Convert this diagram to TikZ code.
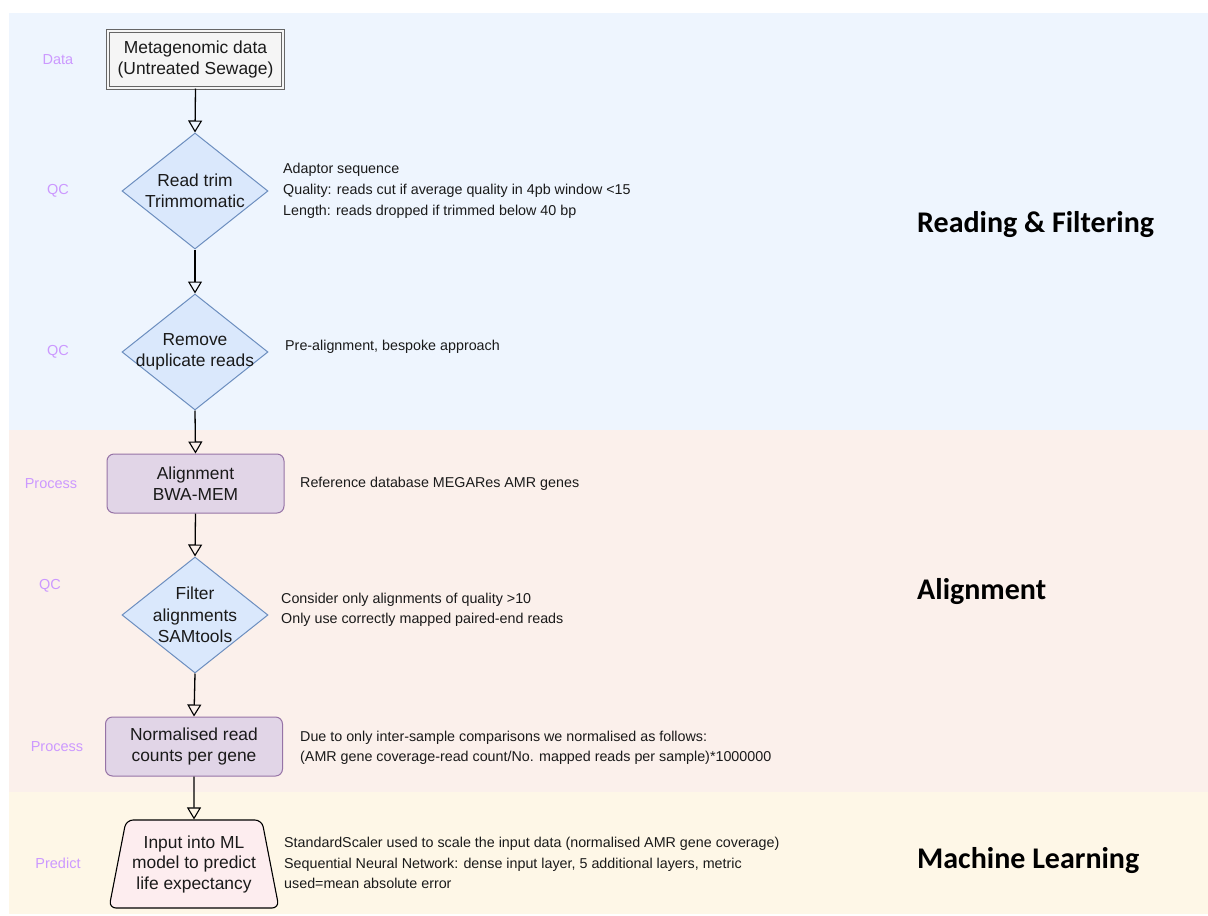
\documentclass[tikz,border=0pt]{standalone}
\usepackage{fontspec}
\setmainfont{Liberation Sans}
\newfontfamily\bigfont{Carlito}
\usetikzlibrary{shapes.geometric,arrows.meta}
\definecolor{bandblue}{HTML}{EEF5FE}
\definecolor{bandpink}{HTML}{FBF0EB}
\definecolor{bandyellow}{HTML}{FEF7E7}
\definecolor{diafill}{HTML}{DAE8FC}
\definecolor{diadraw}{HTML}{6C8EBF}
\definecolor{procfill}{HTML}{E1D5E7}
\definecolor{procdraw}{HTML}{9673A6}
\definecolor{datafill}{HTML}{F5F5F5}
\definecolor{datadraw}{HTML}{666666}
\definecolor{predfill}{HTML}{FDEDEF}
\definecolor{lablav}{HTML}{CC99FF}
\definecolor{txt}{HTML}{1A1A1A}
\tikzset{
  band/.style={fill=#1, draw=none},
  nodetext/.style={align=center, text=txt, font=\fontsize{17.4}{21}\selectfont, inner sep=0pt},
  sidetext/.style={align=left, anchor=west, text=txt, font=\fontsize{14.3}{20.5}\selectfont, inner sep=0pt},
  steplabel/.style={text=lablav, font=\fontsize{14.5}{16}\selectfont, inner sep=0pt},
  biglabel/.style={anchor=west, inner sep=0pt, font=\bigfont\bfseries\fontsize{30}{34}\selectfont},
  dia/.style={diamond, fill=diafill, draw=diadraw, line width=1pt, minimum width=146pt, minimum height=116pt, inner sep=0pt},
  procbox/.style={rectangle, rounded corners=7pt, fill=procfill, draw=procdraw, line width=1pt, minimum width=177pt, minimum height=59pt, inner sep=0pt},
  databox/.style={rectangle, fill=datafill, draw=datadraw, double=datafill, double distance=2pt, line width=1pt, minimum width=175pt, minimum height=57pt, inner sep=0pt},
  predbox/.style={trapezium, trapezium left angle=75, trapezium right angle=75, trapezium stretches=true, rounded corners=7pt, fill=predfill, draw=black, line width=1.1pt, minimum width=170pt, minimum height=88pt, inner sep=1pt, align=center, text=txt, font=\fontsize{17.4}{20.5}\selectfont},
  flow/.style={draw=black, line width=1.3pt, -{Triangle[open, width=14pt, length=12pt, line width=1.1pt]}},
}
\begin{document}
\begin{tikzpicture}[x=1pt,y=-1pt]
\useasboundingbox (0,0) rectangle (1208,916);
% bands
\fill[band=white] (0,0) rectangle (1208,916);
\fill[band=bandblue] (9,13) rectangle (1208,430);
\fill[band=bandpink] (9,430) rectangle (1208,792);
\fill[band=bandyellow] (9,792) rectangle (1208,914);

% big labels
\node[biglabel] (lblread) at (917,225) {Reading \& Filtering};
\node[biglabel] (lblalign) at (917,592) {Alignment};
\node[biglabel] (lblml) at (917,861) {Machine Learning};

% step labels
\node[steplabel] (sData) at (58,60) {Data};
\node[steplabel] (sQC1) at (58,191) {QC};
\node[steplabel] (sQC2) at (58,352) {QC};
\node[steplabel] (sProc1) at (51,484) {Process};
\node[steplabel] (sQC3) at (50,586) {QC};
\node[steplabel] (sProc2) at (57,747) {Process};
\node[steplabel] (sPred) at (58,863) {Predict};

% flow nodes
\node[databox] (data) at (195.5,59.5) {};
\node[nodetext] (datat) at (data) {Metagenomic data\\(Untreated Sewage)};

\node[dia] (trim) at (195,191) {};
\node[nodetext] (trimt) at (trim) {Read trim\\Trimmomatic};

\node[dia] (dup) at (195,352) {};
\node[nodetext] (dupt) at (dup) {Remove\\duplicate reads};

\node[procbox] (align) at (195.5,483.5) {};
\node[nodetext] (alignt) at (align) {Alignment\\BWA-MEM};

\node[dia] (filt) at (195,615) {};
\node[nodetext, font=\fontsize{17.4}{21.5}\selectfont] (filtt) at (filt) {Filter\\alignments\\SAMtools};

\node[procbox] (norm) at (194,746.5) {};
\node[nodetext] (normt) at (norm) {Normalised read\\counts per gene};

\node[predbox] (pred) at (194,864) {Input into ML\\model to predict\\life expectancy};

% connectors
\draw[flow] (data.south) -- (trim.north);
\draw[flow] (trim.south) -- (dup.north);
\draw[flow] (dup.south) -- (align.north);
\draw[flow] (align.south) -- (filt.north);
\draw[flow] (filt.south) -- (norm.north);
\draw[flow] (norm.south) -- (pred.north);

% side texts
\node[sidetext, font=\fontsize{14.3}{21}\selectfont] (ctrim) at (283,191) {Adaptor sequence\\Quality: reads cut if average quality in 4pb window <15\\Length: reads dropped if trimmed below 40 bp};
\node[sidetext] (cdup) at (285,347) {Pre-alignment, bespoke approach};
\node[sidetext] (calign) at (300,484) {Reference database MEGARes AMR genes};
\node[sidetext] (cfilt) at (281,610) {Consider only alignments of quality >10\\Only use correctly mapped paired-end reads};
\node[sidetext] (cnorm) at (300,748) {Due to only inter-sample comparisons we normalised as follows:\\(AMR gene coverage-read count/No. mapped reads per sample)*1000000};
\node[sidetext] (cpred) at (284,863) {StandardScaler used to scale the input data (normalised AMR gene coverage)\\Sequential Neural Network: dense input layer, 5 additional layers, metric\\used=mean absolute error};
\end{tikzpicture}
\end{document}
